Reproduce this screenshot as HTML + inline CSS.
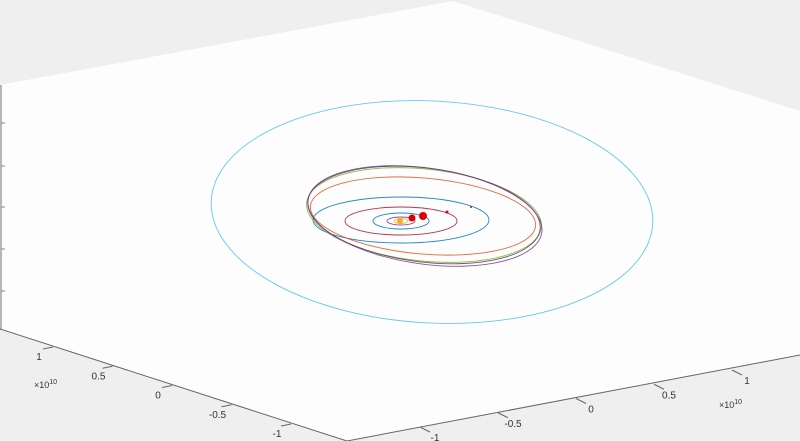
<!DOCTYPE html>
<html><head><meta charset="utf-8"><style>
html,body{margin:0;padding:0;background:#f0eff0;}
svg{display:block;font-family:"Liberation Sans",sans-serif;}
</style></head><body>
<svg id="chart" width="800" height="441" viewBox="0 0 800 441">
<polygon points="0,85 453,1 800,111 800,355 347,441 0,330" fill="#fefdfe"/>
<g id="axes"></g>
<g id="orbits"></g>
<g id="bodies"></g>
</svg>
<script>
// orbit data (screen-space ellipse params per orbit)
const orbitNames = ["mercury","venus","earth","mars","jupiter","saturn","uranus","neptune","pluto","comet"];
const orbitCx = [401,401,401,401,401,424,423,424,425,432];
const orbitCy = [221,221,221,221,220,215,216,215,216,212];
const orbitRx = [7,14,28,56,88,118,113,117,118,221];
const orbitRy = [2.5,4,8,14,23,46,38,47,48,111];
const orbitRot = [0,0,0,0,0,6,5,7,8,3];
const orbitColor = ["#EDB120","#7E2F8E","#0072BD","#A2142F","#0072BD","#77AC30","#D95319","#444444","#7E2F8E","#4DBEEE"];
const bodyX = [400,412,423,447,471];
const bodyY = [221,218,216,212,207];
const bodyR = [3,3.5,4,1.5,1];
const bodyColor = ["#EDB120","#e00000","#e00000","#e00000","#e00000"];
// axis ticks
const tickValues = [1,0.5,0,-0.5,-1];
const rightTickValues = [-1,-0.5,0,0.5,1];
const zTicks = [123,166,207,249,291];

const NS="http://www.w3.org/2000/svg";
function mk(tag,attrs,parent){const e=document.createElementNS(NS,tag);for(const k in attrs)e.setAttribute(k,attrs[k]);parent.appendChild(e);return e;}
const axes=document.getElementById('axes');
const orbits=document.getElementById('orbits');
const bodies=document.getElementById('bodies');

let l=mk('line',{x1:1,y1:85,x2:1,y2:330,stroke:'#888',"stroke-width":1.2},axes);


l=mk('line',{x1:0,y1:329,x2:347,y2:441,stroke:'#666',"stroke-width":1},axes);


l=mk('line',{x1:347,y1:441,x2:800,y2:355,stroke:'#666',"stroke-width":1},axes);


zTicks.forEach(y=>{const t=mk('line',{x1:1,y1:y,x2:5,y2:y,stroke:'#888'},axes);

});

function leftPos(v){const f=(1-v)/2;return [53+f*(291-53),347+f*(424-347)];}
tickValues.forEach(v=>{const [x,y]=leftPos(v);
 const t=mk('line',{x1:x,y1:y,x2:x-10,y2:y+2,stroke:'#666'},axes);
 
 
 const tx=mk('text',{x:x-14,y:y+13,"font-size":10,fill:'#333',"text-anchor":"middle"},axes);
 tx.textContent=String(v);
 
 });
function rightPos(v){const f=(v+1)/2;return [420+f*(732-420),427+f*(370-427)];}
rightTickValues.forEach(v=>{const [x,y]=rightPos(v);
 const t=mk('line',{x1:x,y1:y,x2:x+10,y2:y+5,stroke:'#666'},axes);
 
 
 const tx=mk('text',{x:x+15,y:y+14,"font-size":10,fill:'#333',"text-anchor":"middle"},axes);
 tx.textContent=String(v);
 
 });
let ex=mk('text',{x:34,y:388,"font-size":9,fill:'#333'},axes);
ex.innerHTML='×10<tspan dy="-4" font-size="7">10</tspan>';


ex=mk('text',{x:719,y:408,"font-size":9,fill:'#333'},axes);
ex.innerHTML='×10<tspan dy="-4" font-size="7">10</tspan>';



orbitNames.forEach((n,i)=>{
 const e=mk('ellipse',{cx:orbitCx[i],cy:orbitCy[i],rx:orbitRx[i],ry:orbitRy[i],fill:'none',stroke:orbitColor[i],"stroke-width":0.9,"stroke-opacity":0.85,transform:`rotate(${orbitRot[i]} ${orbitCx[i]} ${orbitCy[i]})`},orbits);
 
 });
bodyX.forEach((x,i)=>{const c=mk('circle',{cx:x,cy:bodyY[i],r:bodyR[i],fill:bodyColor[i]},bodies);
 
 });
</script>
</body></html>
